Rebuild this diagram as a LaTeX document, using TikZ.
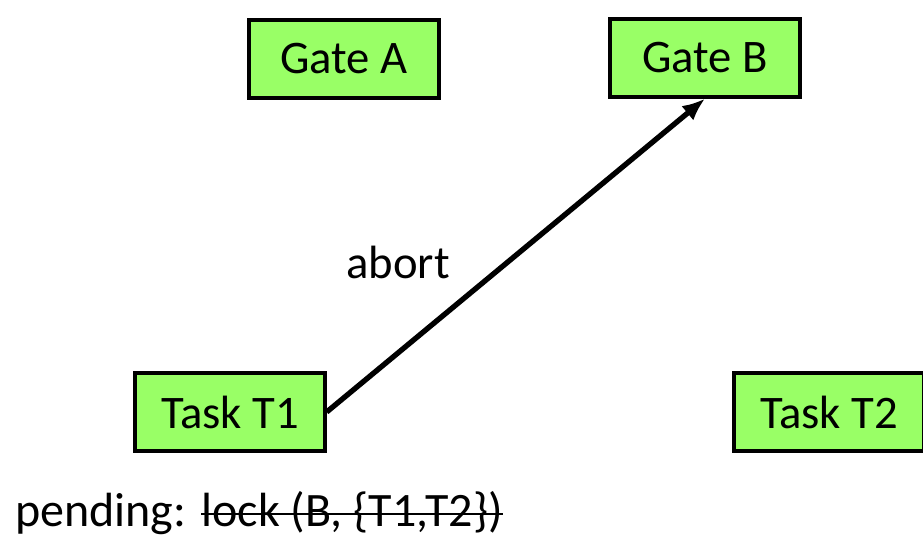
\documentclass[tikz,border=0pt]{standalone}
\usepackage{fontspec}
\setmainfont{Carlito}
\usetikzlibrary{arrows.meta,positioning}
\definecolor{boxgreen}{RGB}{153,255,102}
\tikzset{
  lock box/.style={rectangle,draw,fill=boxgreen,line width=3pt,minimum width=142pt,minimum height=58pt,inner sep=0pt,font=\fontsize{35}{42}\selectfont},
  lock edge/.style={-{Latex[length=17pt,width=14pt]},line width=4pt},
  plain text/.style={inner sep=0pt,font=\fontsize{35}{42}\selectfont},
  strike line/.style={line width=1.4pt},
}
\begin{document}
\begin{tikzpicture}[x=0.75pt,y=-0.75pt]
  \useasboundingbox (0,0) rectangle (923,539);
  \node[lock box] (gA) at (344,59) {Gate A};
  \node[lock box] (gB) at (705,58) {Gate B};
  \node[lock box] (t1) at (230,412) {Task T1};
  \node[lock box] (t2) at (829,412) {Task T2};
  \draw[lock edge] (t1.east) -- (gB.south);
  \node[plain text] (ab) at (398,262) {abort};
  \node[plain text,font=\fontsize{36}{43}\selectfont,anchor=base west] (pend) at (15,526) {pending:};
  \node[plain text,font=\fontsize{36}{43}\selectfont,right=11pt of pend.base east,anchor=base west] (lk) {lock (B, \{T1,T2\})};
  % crossed out
  \draw[strike line] ([yshift=9pt]lk.base west) -- ([yshift=9pt]lk.base east);
\end{tikzpicture}
\end{document}
